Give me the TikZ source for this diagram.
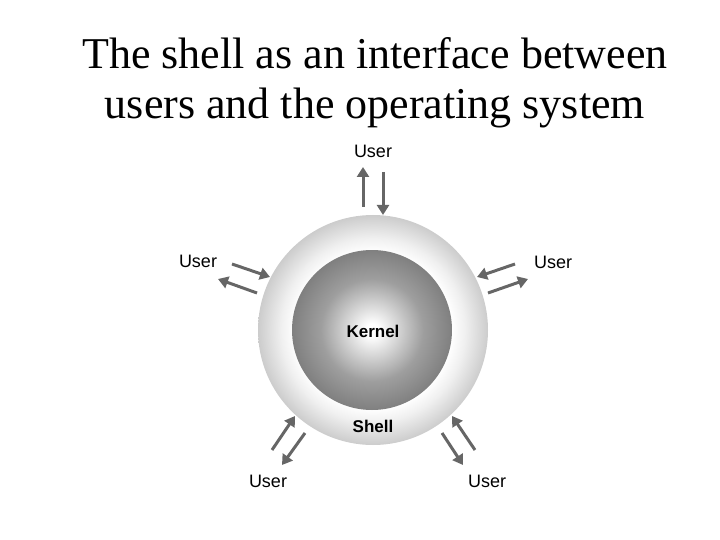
\documentclass[tikz,border=0pt]{standalone}
\usepackage{fontspec}
\setmainfont{Liberation Serif}
\newfontfamily\arial{Liberation Sans}
\usetikzlibrary{arrows.meta}
\pgfdeclareradialshading{shellsh}{\pgfpoint{0bp}{0bp}}{color(0bp)=(white); color(17bp)=(white); color(20bp)=(black!6); color(25bp)=(black!20); color(50bp)=(black!20)}
\pgfdeclareradialshading{kernsh}{\pgfpoint{0bp}{0bp}}{color(0bp)=(white); color(2bp)=(white); color(16bp)=(black!38); color(25bp)=(black!50); color(50bp)=(black!50)}
\begin{document}
\begin{tikzpicture}[x=1pt,y=-1pt,
  lab/.style={font=\arial\fontsize{18}{18}\selectfont},
  blab/.style={font=\arial\bfseries\fontsize{17}{17}\selectfont},
  ar/.style={draw=black!60,line width=3pt,-{Triangle[length=10pt,width=12pt]}}]
\useasboundingbox (0,0) rectangle (720,540);
\node[font=\fontsize{44}{50}\selectfont,align=center] (title) at (375,83) {The shell as an interface between\\users and the operating system};
\shade[shading=shellsh] (373,330) circle (115);
\node[circle,minimum size=230pt] (shell) at (373,330) {};
\shade[shading=kernsh] (372,330) circle (80);
\node[circle,minimum size=160pt] (kern) at (372,330) {};
\node[blab] (k) at (373,331) {Kernel};
\node[blab] (s) at (373,426) {Shell};
\node[lab] (ut) at (373,151) {User};
\node[lab] (ul) at (198,261) {User};
\node[lab] (ur) at (553,262) {User};
\node[lab] (ubl) at (268,481) {User};
\node[lab] (ubr) at (487,481) {User};
\coordinate (a1) at (363,207); \coordinate (b1) at (363,167);
\coordinate (a2) at (383,172); \coordinate (b2) at (383,215);
\coordinate (a3) at (232,264); \coordinate (b3) at (270,277);
\coordinate (a4) at (257,293); \coordinate (b4) at (218,279);
\coordinate (a5) at (515,264); \coordinate (b5) at (477,277);
\coordinate (a6) at (488,293); \coordinate (b6) at (528,279);
\coordinate (a7) at (272,450); \coordinate (b7) at (295,416);
\coordinate (a8) at (305,433); \coordinate (b8) at (282,465);
\coordinate (a9) at (475,450); \coordinate (b9) at (452,416);
\coordinate (a10) at (442,433); \coordinate (b10) at (463,465);
\foreach \i in {1,...,10} \draw[ar] (a\i) -- (b\i);
\end{tikzpicture}
\end{document}
